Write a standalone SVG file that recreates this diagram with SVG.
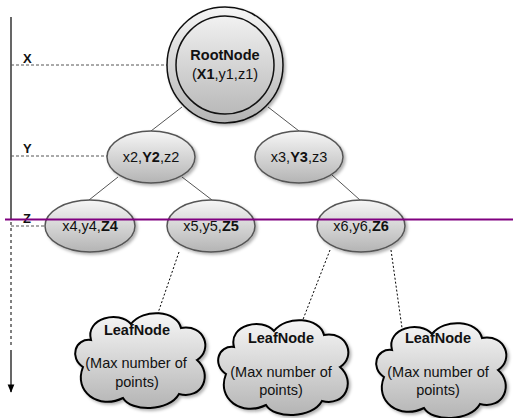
<svg xmlns="http://www.w3.org/2000/svg" width="513" height="418" viewBox="0 0 513 418">
<style>
text{font-family:"Liberation Sans",Arial,sans-serif;fill:#111;}
.t{font-size:14.5px;text-anchor:middle;}
.b{font-weight:bold;}
.ax{font-size:13px;font-weight:bold;}
.ell{fill:url(#g);stroke:#555;stroke-width:1.5;filter:url(#sh);}
.cl{fill:url(#g);stroke:#000;stroke-width:2;filter:url(#sh);}
.edge{stroke:#555;stroke-width:1;fill:none;}
.dot{stroke:#000;stroke-width:1;stroke-dasharray:2,2;fill:none;}
.guide{stroke:#555;stroke-width:1;stroke-dasharray:3,2;fill:none;}
</style>
<defs>
<linearGradient id="g" x1="0" y1="0" x2="0" y2="1">
<stop offset="0" stop-color="#f6f6f6"/>
<stop offset="1" stop-color="#b4b4b4"/>
</linearGradient>
<filter id="sh" x="-20%" y="-20%" width="140%" height="140%">
<feDropShadow dx="2" dy="2" stdDeviation="1.5" flood-color="#000" flood-opacity="0.3"/>
</filter>
<marker id="arr" viewBox="0 0 10 10" refX="9" refY="5" markerWidth="7" markerHeight="7" orient="auto">
<path d="M0,1 L10,5 L0,9 Z" fill="#000"/>
</marker>
<path id="cloud" d="M18,28 C12,6 46,-2 58,12 C70,-4 104,-2 108,16 C132,12 140,38 124,48 C140,62 130,88 106,82 C96,100 58,100 50,86 C26,98 0,80 10,55 C-4,46 2,26 18,28 Z"/>
</defs>

<g id="axis">
<line x1="11" y1="17" x2="11" y2="220" stroke="#000" stroke-width="1.2"/>
<line x1="11" y1="222" x2="11" y2="348" stroke="#000" stroke-width="1" stroke-dasharray="3,3"/>
<line x1="11" y1="350" x2="11" y2="392" stroke="#000" stroke-width="1.2" marker-end="url(#arr)"/>
<line class="guide" x1="11" y1="65" x2="167" y2="65"/>
<line class="guide" x1="11" y1="156" x2="107" y2="156"/>
<line class="guide" x1="11" y1="226" x2="46" y2="226"/>
<text class="ax" x="23" y="63">X</text>
<text class="ax" x="23" y="153">Y</text>
<text class="ax" x="23" y="223">Z</text>
</g>

<g id="connectors">
<line class="edge" x1="182" y1="107" x2="151" y2="131"/>
<line class="edge" x1="268" y1="107" x2="299" y2="131"/>
<line class="edge" x1="118" y1="177" x2="89" y2="200"/>
<line class="edge" x1="182" y1="177" x2="212" y2="200"/>
<line class="edge" x1="332" y1="175" x2="360" y2="200"/>
<line class="dot" x1="179" y1="252" x2="157" y2="316"/>
<line class="dot" x1="330" y1="250" x2="302" y2="322"/>
<line class="dot" x1="391" y1="250" x2="402" y2="328"/>
</g>

<g id="root">
<circle cx="225" cy="65" r="58" fill="url(#g)" stroke="#111" stroke-width="1.5" filter="url(#sh)"/>
<circle cx="225" cy="65" r="49" fill="none" stroke="#111" stroke-width="1.5"/>
<text class="t b" x="225" y="60">RootNode</text>
<text class="t" x="225" y="79">(<tspan class="b">X1</tspan>,y1,z1)</text>
</g>

<g id="n2">
<ellipse class="ell" cx="151" cy="157" rx="44" ry="26"/>
<text class="t" x="151" y="162">x2,<tspan class="b">Y2</tspan>,z2</text>
</g>
<g id="n3">
<ellipse class="ell" cx="299" cy="157" rx="44" ry="26"/>
<text class="t" x="299" y="162">x3,<tspan class="b">Y3</tspan>,z3</text>
</g>
<g id="n4">
<ellipse class="ell" cx="90" cy="226" rx="45" ry="26"/>
<text class="t" x="90" y="231">x4,y4,<tspan class="b">Z4</tspan></text>
</g>
<g id="n5">
<ellipse class="ell" cx="211" cy="226" rx="44" ry="26"/>
<text class="t" x="211" y="231">x5,y5,<tspan class="b">Z5</tspan></text>
</g>
<g id="n6">
<ellipse class="ell" cx="361" cy="226" rx="44" ry="26"/>
<text class="t" x="361" y="231">x6,y6,<tspan class="b">Z6</tspan></text>
</g>

<g id="leaf1">
<use href="#cloud" class="cl" transform="translate(73,312)"/>
<text class="t b" x="137" y="335">LeafNode</text>
<text class="t" x="136" y="368">(Max number of</text>
<text class="t" x="137" y="387">points)</text>
</g>
<g id="leaf2">
<use href="#cloud" class="cl" transform="translate(216,319)"/>
<text class="t b" x="281" y="343">LeafNode</text>
<text class="t" x="281" y="377">(Max number of</text>
<text class="t" x="281" y="395">points)</text>
</g>
<g id="leaf3">
<use href="#cloud" class="cl" transform="translate(374,322)"/>
<text class="t b" x="438" y="343">LeafNode</text>
<text class="t" x="438" y="377">(Max number of</text>
<text class="t" x="438" y="395">points)</text>
</g>

<line id="zplane" x1="5" y1="219.5" x2="513" y2="219.5" stroke="#800080" stroke-width="2"/>
</svg>
